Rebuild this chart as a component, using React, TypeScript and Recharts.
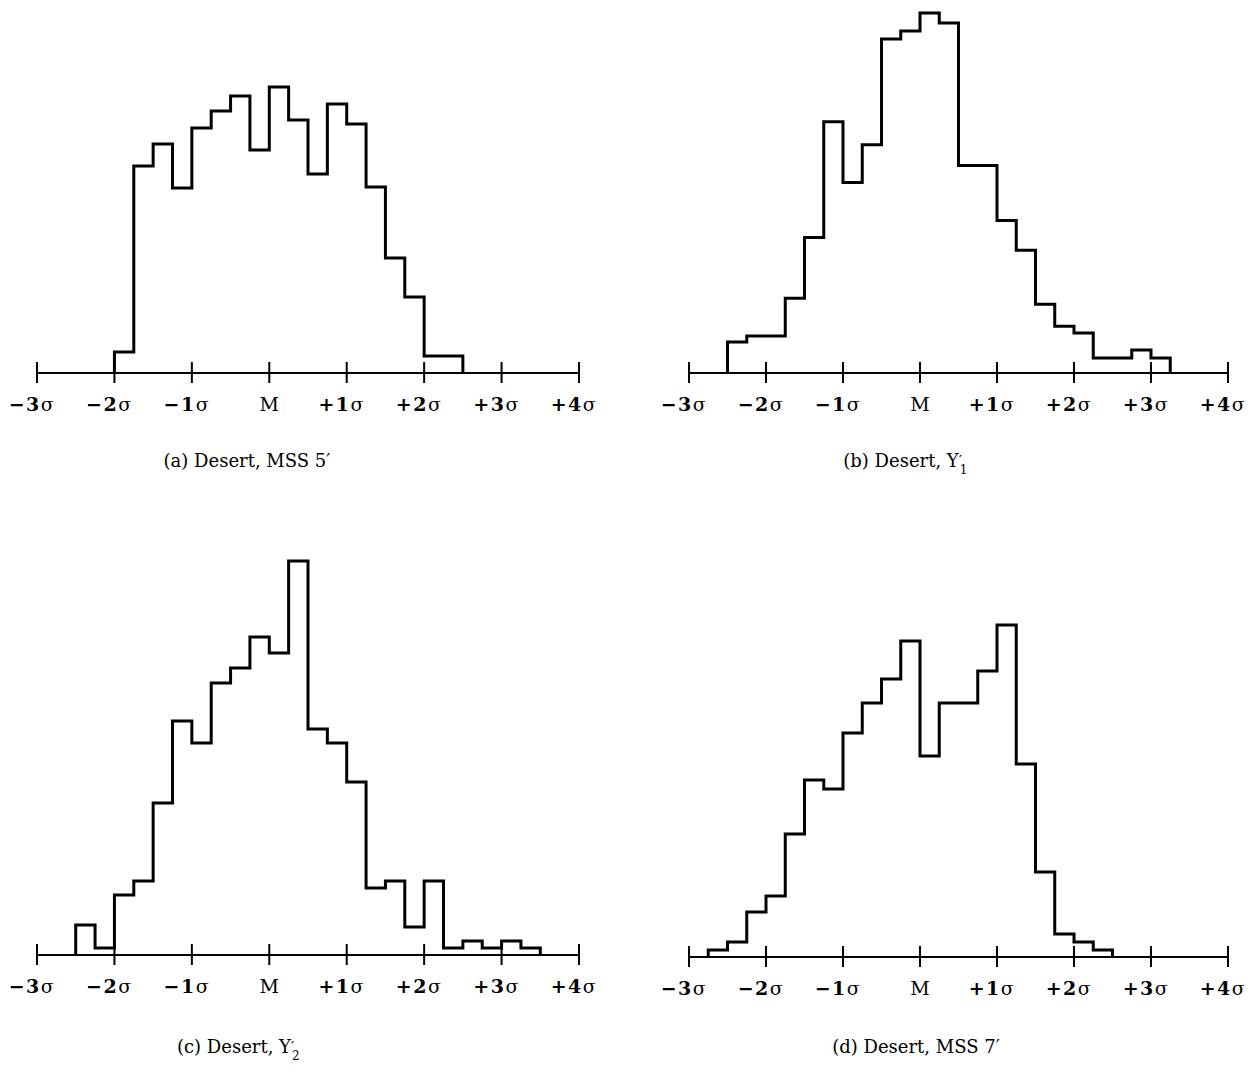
import React from "react";
import { LineChart, Line, XAxis, YAxis } from "recharts";

// tick positions in units of sigma, and their labels
const sigmaTicks = [-3, -2, -1, 0, 1, 2, 3, 4];
const sigmaLabels = ["−3σ", "−2σ", "−1σ", "M", "+1σ", "+2σ", "+3σ", "+4σ"];

const binWidth = 0.25;

// (a) Desert, MSS 5'
const startA = -2;
const heightsA = [21, 207, 229, 185, 245, 262, 277, 223, 286, 253, 199, 269, 249, 186, 115, 76, 17, 17];

// (b) Desert, Y1'
const startB = -2.5;
const heightsB = [31, 37, 37, 75, 136, 252, 191, 229, 335, 343, 361, 351, 208, 208, 153, 123, 69, 47, 40, 15, 15, 23, 15];

// (c) Desert, Y2'
const startC = -2.5;
const heightsC = [30, 7, 60, 74, 152, 234, 212, 272, 287, 318, 302, 394, 226, 212, 173, 67, 74, 28, 74, 7, 14, 7, 14, 7];

// (d) Desert, MSS 7'
const startD = -2.75;
const heightsD = [7, 15, 45, 61, 123, 177, 168, 224, 254, 278, 316, 201, 254, 254, 286, 332, 193, 85, 23, 15, 7];

function toSteps(start: number, heights: number[]) {
  const rows = [{ x: start, y: 0 }];
  heights.forEach((h, i) => rows.push({ x: start + i * binWidth, y: h }));
  rows.push({ x: start + heights.length * binWidth, y: 0 });
  return rows;
}

const SigmaTick = (props: any) => {
  const { x, y, payload } = props;
  const label = sigmaLabels[sigmaTicks.indexOf(payload.value)] || "";
  const isM = label === "M";
  return (
    <g>
      <line x1={x} x2={x} y1={y - 11} y2={y + 10} stroke="#000" strokeWidth={2} />
      <text
        x={isM ? x : x - 5}
        y={y + 38}
        textAnchor="middle"
        fontFamily="DejaVu Serif"
        fontSize={19}
        letterSpacing={isM ? 0 : 1.5}
        fill="#000"
      >
        {isM ? (
          <tspan>M</tspan>
        ) : (
          <>
            <tspan fontWeight="bold">{label.slice(0, 2)}</tspan>
            <tspan>{label.slice(2)}</tspan>
          </>
        )}
      </text>
    </g>
  );
};

function Panel({ left, top, axisLeft, axisRight, axisY, plotTop, start, heights }: any) {
  const width = 640;
  const height = 130 + axisY - top;
  const yMax = axisY - plotTop;
  return (
    <div style={{ position: "absolute", left, top }}>
      <LineChart
        width={width}
        height={height}
        data={toSteps(start, heights)}
        margin={{ left: axisLeft - left, right: left + width - axisRight, top: plotTop - top, bottom: 0 }}
      >
        <XAxis
          dataKey="x"
          type="number"
          domain={[-3, 4]}
          ticks={sigmaTicks}
          interval={0}
          height={height - (axisY - top)}
          tickLine={false}
          tickSize={0}
          tickMargin={0}
          axisLine={{ stroke: "#000", strokeWidth: 2 }}
          tick={<SigmaTick />}
        />
        <YAxis hide domain={[0, yMax]} />
        <Line
          type="stepAfter"
          dataKey="y"
          stroke="#000"
          strokeWidth={3}
          dot={false}
          isAnimationActive={false}
        />
      </LineChart>
    </div>
  );
}

const captionStyle: React.CSSProperties = {
  position: "absolute",
  width: 400,
  textAlign: "center",
  fontFamily: "DejaVu Serif",
  fontSize: 18,
  color: "#000",
  whiteSpace: "nowrap",
};

const YSub = ({ n }: { n: string }) => (
  <span>
    Y
    <span style={{ position: "relative", display: "inline-block", width: 8 }}>
      <span style={{ position: "absolute", left: 0, top: -15, fontSize: 15 }}>′</span>
      <span style={{ position: "absolute", left: 1, top: -4, fontSize: 12 }}>{n}</span>
    </span>
  </span>
);

export default function App() {
  return (
    <div style={{ position: "absolute", left: 0, top: 0, width: 1253, height: 1077, background: "#fff", overflow: "hidden" }}>
      <Panel left={0} top={0} axisLeft={37} axisRight={579} axisY={373} plotTop={13} start={startA} heights={heightsA} />
      <Panel left={630} top={0} axisLeft={689} axisRight={1228} axisY={373} plotTop={13} start={startB} heights={heightsB} />
      <Panel left={0} top={540} axisLeft={37} axisRight={579} axisY={955} plotTop={555} start={startC} heights={heightsC} />
      <Panel left={630} top={540} axisLeft={689} axisRight={1228} axisY={957} plotTop={557} start={startD} heights={heightsD} />

      <div style={{ ...captionStyle, left: 247 - 200, top: 450 }}>(a) Desert, MSS 5′</div>
      <div style={{ ...captionStyle, left: 905 - 200, top: 450 }}>
        (b) Desert, <YSub n="1" />
      </div>
      <div style={{ ...captionStyle, left: 238 - 200, top: 1036 }}>
        (c) Desert, <YSub n="2" />
      </div>
      <div style={{ ...captionStyle, left: 916 - 200, top: 1036 }}>(d) Desert, MSS 7′</div>
    </div>
  );
}
